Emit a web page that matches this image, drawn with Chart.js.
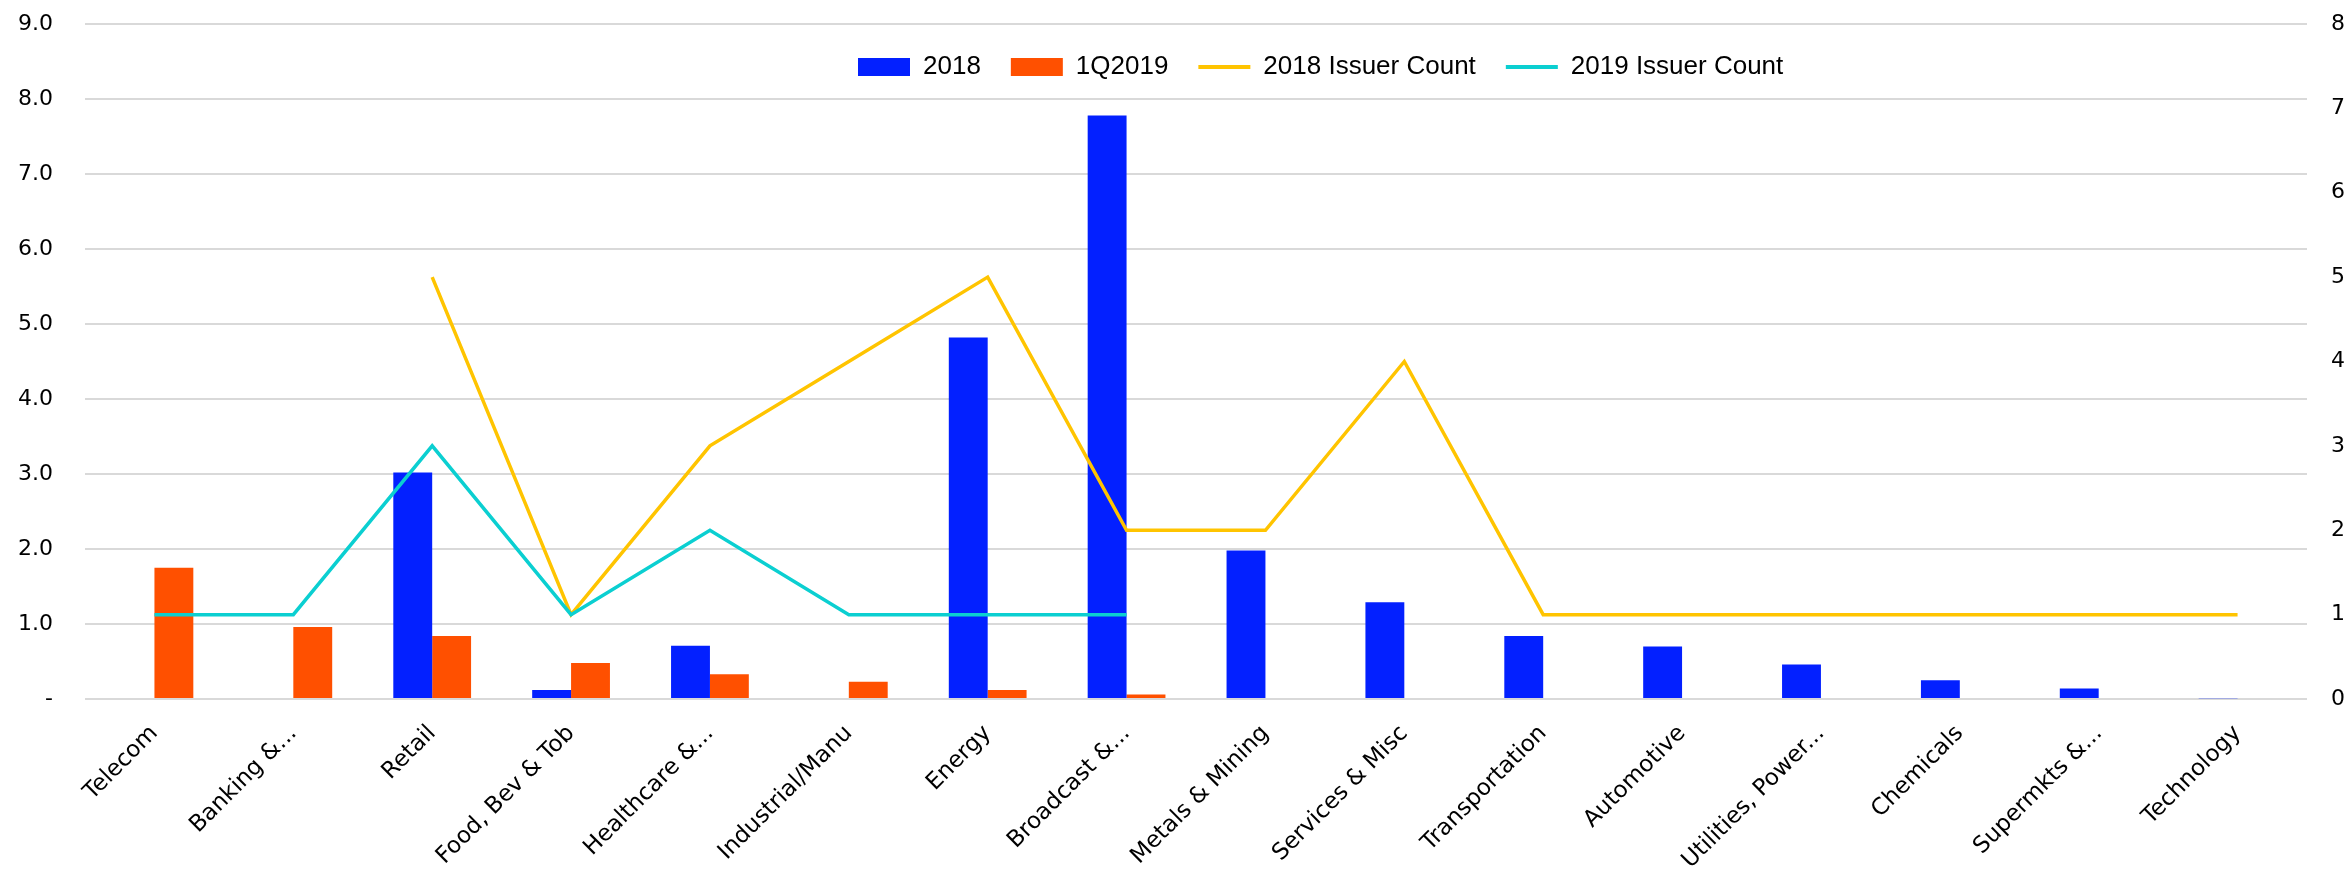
<!DOCTYPE html>
<html>
<head>
<meta charset="utf-8">
<script src="https://cdn.jsdelivr.net/npm/chart.js@4.4.1/dist/chart.umd.min.js"></script>
<style>
  html, body { margin: 0; padding: 0; background: #fff; }
  #wrap { width: 2351px; height: 869px; }
</style>
</head>
<body>
<div id="wrap"><canvas id="chart" width="2351" height="869"></canvas></div>
<script>
// categories and series
const sectors = [
  "Telecom", "Banking &...", "Retail", "Food, Bev & Tob", "Healthcare &...",
  "Industrial/Manu", "Energy", "Broadcast &...", "Metals & Mining", "Services & Misc",
  "Transportation", "Automotive", "Utilities, Power...", "Chemicals", "Supermkts &...", "Technology"
];
const vol2018 = [null, null, 3.02, 0.12, 0.71, null, 4.82, 7.78, 1.98, 1.29, 0.84, 0.70, 0.46, 0.25, 0.14, 0.01];
const vol1Q2019 = [1.75, 0.96, 0.84, 0.48, 0.33, 0.23, 0.12, 0.06, null, null, null, null, null, null, null, null];
const issuers2018 = [null, null, 5, 1, 3, 4, 5, 2, 2, 4, 1, 1, 1, 1, 1, 1];
const issuers2019 = [1, 1, 3, 1, 2, 1, 1, 1, null, null, null, null, null, null, null, null];
const leftTicks = ["-", "1.0", "2.0", "3.0", "4.0", "5.0", "6.0", "7.0", "8.0", "9.0"];

const BLUE = "#0320FF";
const ORANGE = "#FF5000";
const YELLOW = "#FFC400";
const CYAN = "#0BCFD1";

// legend sits inside the plot, a bit right of centre
const legendShift = {
  id: "legendShift",
  afterLayout(chart) {
    if (chart.legend) chart.legend.left = 828;
  }
};

// keep the axes from adding their own padding round the plot
function noPad(scale) {
  scale.paddingTop = 0;
  scale.paddingBottom = 0;
  scale.paddingLeft = 0;
  scale.paddingRight = 0;
}

const chart = new Chart(document.getElementById("chart"), {
  data: {
    labels: sectors,
    datasets: [
      { type: "bar", label: "2018", data: vol2018, backgroundColor: BLUE, yAxisID: "y", order: 2 },
      { type: "bar", label: "1Q2019", data: vol1Q2019, backgroundColor: ORANGE, yAxisID: "y", order: 2 },
      { type: "line", label: "2018 Issuer Count", data: issuers2018, borderColor: YELLOW, backgroundColor: YELLOW,
        borderWidth: 3.5, pointRadius: 0, tension: 0, yAxisID: "y1", order: 1 },
      { type: "line", label: "2019 Issuer Count", data: issuers2019, borderColor: CYAN, backgroundColor: CYAN,
        borderWidth: 3.5, pointRadius: 0, tension: 0, yAxisID: "y1", order: 0 }
    ]
  },
  plugins: [legendShift],
  options: {
    responsive: false,
    animation: false,
    layout: { padding: { top: 24, left: 17, right: 6, bottom: 0 } },
    datasets: {
      bar: { barPercentage: 1.0, categoryPercentage: 0.56 }
    },
    plugins: {
      tooltip: { enabled: false },
      legend: {
        position: "chartArea",
        fullSize: false,
        align: "start",
        labels: {
          font: { family: "Liberation Sans", size: 26 },
          color: "#000",
          usePointStyle: true,
          pointStyleWidth: 52,
          boxHeight: 18,
          padding: 30,
          generateLabels(chart) {
            return chart.data.datasets.map((ds, i) => ({
              text: ds.label,
              datasetIndex: i,
              fillStyle: ds.type === "bar" ? ds.backgroundColor : ds.borderColor,
              strokeStyle: ds.type === "bar" ? ds.backgroundColor : ds.borderColor,
              lineWidth: ds.type === "bar" ? 0 : 4,
              pointStyle: ds.type === "bar" ? "rect" : "line",
              fontColor: "#000",
              hidden: false
            }));
          }
        }
      }
    },
    scales: {
      x: {
        grid: { display: false },
        border: { display: false },
        afterFit(scale) { scale.height = 170; noPad(scale); },
        ticks: {
          minRotation: 45, maxRotation: 45, autoSkip: false,
          color: "#000",
          font: { family: "DejaVu Sans", size: 23 },
          padding: 13
        }
      },
      y: {
        position: "left",
        min: 0, max: 9,
        grid: { color: "#D9D9D9", lineWidth: 2, drawTicks: false },
        border: { display: false },
        afterFit(scale) { scale.width = 68; noPad(scale); },
        ticks: {
          stepSize: 1,
          color: "#000",
          padding: 32,
          font: { family: "DejaVu Sans", size: 22 },
          callback: (v) => leftTicks[v]
        }
      },
      y1: {
        position: "right",
        min: 0, max: 8,
        grid: { display: false, drawTicks: false },
        border: { display: false },
        afterFit(scale) { scale.width = 38; noPad(scale); },
        ticks: {
          stepSize: 1,
          color: "#000",
          padding: 24,
          font: { family: "DejaVu Sans", size: 22 }
        }
      }
    }
  }
});

// lay the chartArea legend out in one row at the top of the plot
chart.legend.isHorizontal = () => true;
chart.update();
</script>
</body>
</html>
